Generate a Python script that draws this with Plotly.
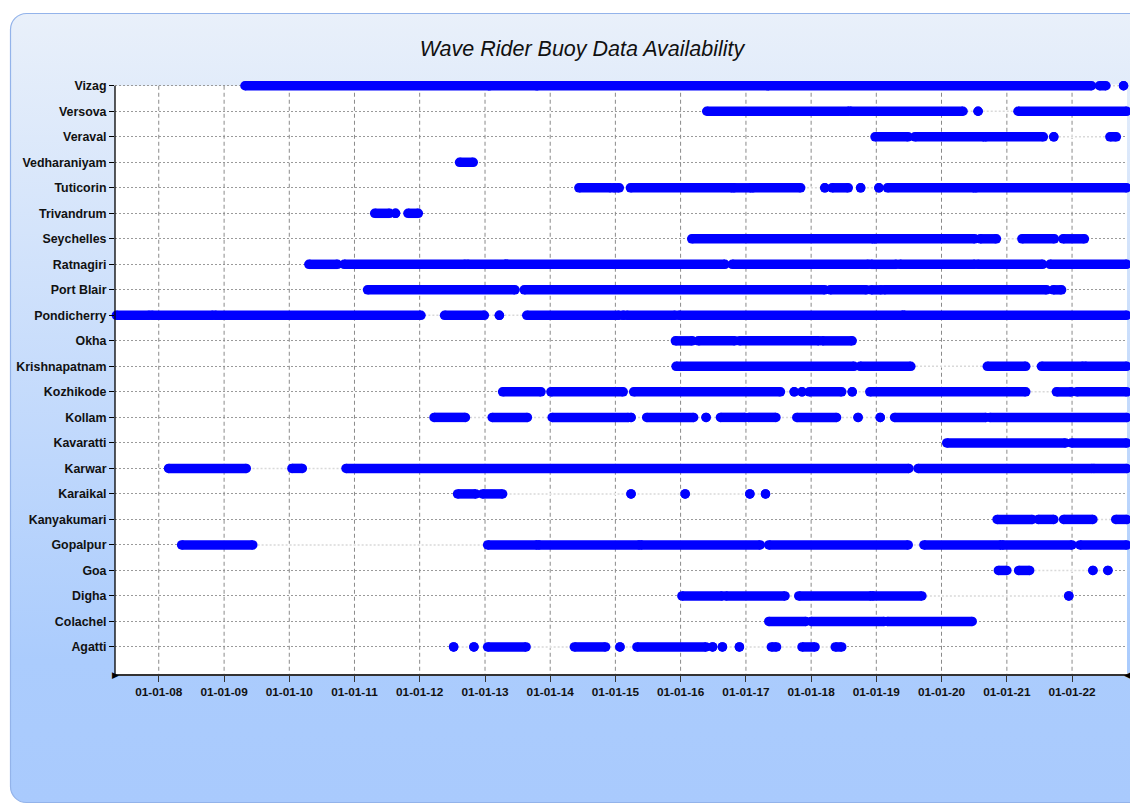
import base64
from datetime import datetime, timedelta
import plotly.graph_objects as go

# ---------------- data (decimal years) ----------------
stations = ["Vizag", "Versova", "Veraval", "Vedharaniyam", "Tuticorin", "Trivandrum",
            "Seychelles", "Ratnagiri", "Port Blair", "Pondicherry", "Okha", "Krishnapatnam",
            "Kozhikode", "Kollam", "Kavaratti", "Karwar", "Karaikal", "Kanyakumari",
            "Gopalpur", "Goa", "Digha", "Colachel", "Agatti"]

vizag = [(2009.32, 2013.06), (2013.07, 2013.79), (2013.80, 2017.33), (2017.34, 2022.30),
         (2022.42, 2022.52), (2022.79, 2022.79)]
versova = [(2016.40, 2018.58), (2018.60, 2020.33), (2020.56, 2020.56), (2021.17, 2022.84)]
veraval = [(2018.98, 2019.49), (2019.59, 2020.65), (2020.67, 2021.56), (2021.72, 2021.72),
           (2022.58, 2022.68)]
vedharaniyam = [(2012.61, 2012.82)]
tuticorin = [(2014.44, 2014.93), (2014.97, 2015.06), (2015.23, 2016.79), (2016.81, 2017.08),
             (2017.10, 2017.84), (2018.21, 2018.21), (2018.32, 2018.57), (2018.76, 2018.76),
             (2019.04, 2019.04), (2019.17, 2020.50), (2020.52, 2022.84)]
trivandrum = [(2011.31, 2011.54), (2011.63, 2011.63), (2011.82, 2011.98)]
seychelles = [(2016.17, 2018.95), (2018.97, 2020.51), (2020.59, 2020.84), (2021.23, 2021.73),
              (2021.86, 2022.19)]
ratnagiri = [(2010.30, 2010.74), (2010.84, 2012.70), (2012.73, 2013.32), (2013.33, 2016.68),
             (2016.79, 2018.88), (2018.92, 2019.31), (2019.36, 2020.51), (2020.55, 2021.55),
             (2021.66, 2022.84)]
port_blair = [(2011.20, 2013.46), (2013.60, 2018.21), (2018.29, 2018.85), (2018.92, 2019.08),
              (2019.12, 2021.61), (2021.71, 2021.84)]
pondicherry = [(2007.35, 2007.86), (2007.89, 2008.83), (2008.86, 2012.02), (2012.38, 2012.99),
               (2013.22, 2013.22), (2013.64, 2015.06), (2015.12, 2015.12), (2015.17, 2015.92),
               (2015.97, 2019.41), (2019.42, 2022.84)]
okha = [(2015.92, 2016.18), (2016.27, 2016.83), (2016.90, 2018.12), (2018.17, 2018.63)]
krishnapatnam = [(2015.93, 2018.66), (2018.75, 2019.53), (2020.70, 2021.29), (2021.53, 2022.17),
                 (2022.20, 2022.84)]
kozhikode = [(2013.27, 2013.86), (2014.01, 2015.12), (2015.28, 2017.53), (2017.74, 2017.74),
             (2017.86, 2017.86), (2017.97, 2018.47), (2018.63, 2018.63), (2018.90, 2021.29),
             (2021.76, 2021.99), (2022.07, 2022.84)]
kollam = [(2012.22, 2012.70), (2013.11, 2013.65), (2014.03, 2015.20), (2015.24, 2015.24),
          (2015.48, 2016.20), (2016.39, 2016.39), (2016.61, 2016.99), (2017.04, 2017.46),
          (2017.78, 2018.39), (2018.72, 2018.72), (2019.06, 2019.06), (2019.28, 2020.68),
          (2020.74, 2022.84)]
kavaratti = [(2020.08, 2021.90), (2021.99, 2022.84)]
karwar = [(2008.15, 2009.34), (2010.04, 2010.20), (2010.87, 2019.50), (2019.64, 2022.31),
          (2022.33, 2022.84)]
karaikal = [(2012.58, 2012.86), (2012.96, 2013.27), (2015.24, 2015.24), (2016.07, 2016.07),
            (2017.06, 2017.06), (2017.30, 2017.30)]
kanyakumari = [(2020.85, 2021.39), (2021.48, 2021.72), (2021.87, 2022.32), (2022.67, 2022.84)]
gopalpur = [(2008.35, 2009.44), (2013.04, 2013.80), (2013.82, 2015.37), (2015.39, 2017.22),
            (2017.35, 2019.49), (2019.73, 2020.91), (2020.93, 2022.00), (2022.12, 2022.84)]
goa = [(2020.87, 2021.00), (2021.18, 2021.35), (2022.32, 2022.32), (2022.55, 2022.55)]
digha = [(2016.02, 2016.64), (2016.69, 2017.60), (2017.81, 2018.92), (2018.94, 2019.70),
         (2021.95, 2021.95)]
colachel = [(2017.35, 2017.92), (2018.00, 2019.12), (2019.17, 2020.47)]
agatti = [(2012.52, 2012.52), (2012.83, 2012.83), (2013.04, 2013.63), (2014.37, 2014.85),
          (2015.07, 2015.07), (2015.33, 2016.39), (2016.49, 2016.49), (2016.64, 2016.64),
          (2016.90, 2016.90), (2017.39, 2017.47), (2017.86, 2018.06), (2018.37, 2018.47)]

segments = [vizag, versova, veraval, vedharaniyam, tuticorin, trivandrum, seychelles,
            ratnagiri, port_blair, pondicherry, okha, krishnapatnam, kozhikode, kollam,
            kavaratti, karwar, karaikal, kanyakumari, gopalpur, goa, digha, colachel, agatti]

tick_years = list(range(2008, 2023))
x_range_years = [2007.329, 2022.843]
title_text = "Wave Rider Buoy Data Availability"


def to_date(v):
    y = int(v)
    start = datetime(y, 1, 1)
    days = (datetime(y + 1, 1, 1) - start).days
    return start + timedelta(days=(v - y) * days)


# ---------------- build traces ----------------
seg_x, seg_y, span_x, span_y = [], [], [], []
for name, segs in zip(stations, segments):
    for a, b in segs:
        seg_x += [to_date(a), to_date(b), None]
        seg_y += [name, name, None]
    span_x += [to_date(segs[0][0]), to_date(segs[-1][1]), None]
    span_y += [name, name, None]

fig = go.Figure()
# lighter connector inside each station's data extent
fig.add_trace(go.Scatter(x=span_x, y=span_y, mode="lines", hoverinfo="skip",
                         line=dict(color="white", width=2.5), showlegend=False))
fig.add_trace(go.Scatter(x=span_x, y=span_y, mode="lines", hoverinfo="skip",
                         line=dict(color="#d9d9d9", width=1.5, dash="2px,2px"),
                         showlegend=False))
fig.add_trace(go.Scatter(x=seg_x, y=seg_y, mode="lines+markers", showlegend=False,
                         cliponaxis=False,
                         line=dict(color="#0000ff", width=9.5),
                         marker=dict(color="#0000ff", size=9.5, line=dict(width=0))))

# ---------------- geometry (page body adds an 8px offset) ----------------
W, H = 1138, 805
off = 8
ml, mr, mt, mb = 115 - off, 11 + off, 73 - off, 131 + off
pw, ph = W - ml - mr, H - mt - mb
y_bottom = 23.06

svg = (
    f"<svg xmlns='http://www.w3.org/2000/svg' width='{W}' height='{H}' viewBox='0 0 {W} {H}'>"
    "<defs><linearGradient id='g' x1='0' y1='0' x2='0' y2='1'>"
    "<stop offset='0' stop-color='#e9f0fa'/>"
    "<stop offset='0.82' stop-color='#abccfd'/>"
    "<stop offset='1' stop-color='#a9cafd'/>"
    "</linearGradient></defs>"
    f"<rect x='{10.5 - off}' y='{13.5 - off}' width='1180' height='789' rx='16' ry='16' "
    "fill='url(#g)' stroke='#93b3ea' stroke-width='1.2'/></svg>"
)
src = "data:image/svg+xml;base64," + base64.b64encode(svg.encode()).decode()

shapes = [dict(type="rect", xref="paper", yref="y", x0=0, x1=1, y0=0, y1=y_bottom,
               fillcolor="white", line=dict(width=0), layer="below")]
for yr in tick_years:
    shapes.append(dict(type="line", xref="x", yref="y", x0=to_date(yr), x1=to_date(yr),
                       y0=0, y1=y_bottom, layer="between",
                       line=dict(color="#8a8a8a", width=1, dash="4px,3px")))
shapes.append(dict(type="line", xref="paper", yref="y", x0=0, x1=0, y0=0, y1=y_bottom,
                   line=dict(color="black", width=1.3), layer="above"))

sans = "Liberation Sans, Arial, sans-serif"

fig.update_layout(
    width=W, height=H,
    margin=dict(l=ml, r=mr, t=mt, b=mb, pad=0, autoexpand=False),
    paper_bgcolor="white",
    plot_bgcolor="rgba(0,0,0,0)",
    images=[dict(source=src, xref="paper", yref="paper",
                 x=-ml / pw, y=1 + mt / ph, sizex=W / pw, sizey=H / ph,
                 xanchor="left", yanchor="top", sizing="stretch", layer="below")],
    shapes=shapes,
    title=dict(text=title_text, xref="container", yref="container",
               x=(582 - off) / W, y=1 - (48 - off) / H, xanchor="center", yanchor="middle",
               font=dict(family=sans, size=21.5, color="#111111", style="italic")),
    xaxis=dict(type="date", automargin=False,
               range=[to_date(x_range_years[0]), to_date(x_range_years[1])],
               tickvals=[to_date(y) for y in tick_years],
               ticktext=[to_date(y).strftime("%d-%m-%y") for y in tick_years],
               showgrid=False, zeroline=False,
               showline=True, linecolor="#333333", linewidth=2.2,
               ticks="outside", ticklen=6, tickwidth=1.2, tickcolor="#333333",
               tickfont=dict(family=sans, size=11.8, color="#111111", weight="bold")),
    yaxis=dict(type="category", automargin=False,
               categoryorder="array", categoryarray=stations,
               range=[y_bottom, -0.5],
               showgrid=True, gridcolor="#9a9a9a", gridwidth=1, griddash="2px,2px",
               showline=False, zeroline=False,
               ticks="outside", ticklen=5, tickwidth=1.3, tickcolor="black",
               tickfont=dict(family=sans, size=12.4, color="#111111", weight="bold")),
    annotations=[
        dict(text="▶", xref="paper", yref="paper", x=0, y=0, xanchor="center",
             yanchor="middle", showarrow=False, font=dict(size=9, color="black")),
        dict(text="◀", xref="paper", yref="paper", x=1, y=0, xanchor="center",
             yanchor="middle", showarrow=False, font=dict(size=9, color="black")),
    ],
)

fig.write_html("out.html")
